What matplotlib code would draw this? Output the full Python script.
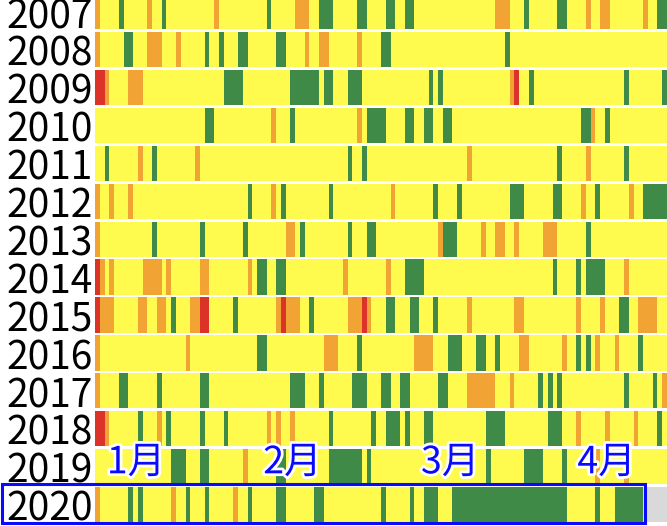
import matplotlib
matplotlib.use("Agg")
import matplotlib.pyplot as plt
import matplotlib.patheffects as pe
from matplotlib.patches import Rectangle

# ---- data: per-year runs of (first day index from Jan 1, number of days, level) ----
# levels: 'g' green, 'o' orange, 'r' red ; all other days are yellow
years = [2007, 2008, 2009, 2010, 2011, 2012, 2013, 2014, 2015, 2016, 2017, 2018, 2019, 2020]

runs_2007 = [(0, 1, 'o'), (5, 1, 'g'), (11, 1, 'o'), (14, 1, 'g'), (25, 1, 'o'), (36, 1, 'g'),
             (42, 3, 'o'), (47, 3, 'g'), (55, 2, 'g'), (61, 2, 'g'), (65, 2, 'g'), (84, 3, 'o'),
             (90, 1, 'g'), (97, 2, 'g'), (103, 1, 'o'), (106, 2, 'o'), (115, 1, 'o'), (118, 2, 'g')]
runs_2008 = [(0, 1, 'o'), (6, 2, 'g'), (11, 3, 'o'), (17, 1, 'o'), (23, 1, 'g'), (26, 1, 'g'),
             (30, 2, 'g'), (38, 2, 'g'), (44, 1, 'o'), (47, 2, 'o'), (55, 1, 'o'), (60, 2, 'g'),
             (86, 1, 'g')]
runs_2009 = [(0, 2, 'r'), (2, 1, 'o'), (7, 3, 'o'), (27, 4, 'g'), (41, 6, 'g'), (48, 2, 'g'),
             (53, 3, 'g'), (70, 1, 'g'), (72, 1, 'g'), (87, 1, 'o'), (88, 1, 'r'), (91, 1, 'g'),
             (111, 1, 'g'), (119, 1, 'g')]
runs_2010 = [(23, 2, 'g'), (37, 1, 'o'), (41, 1, 'g'), (55, 1, 'o'), (57, 4, 'g'), (65, 2, 'g'),
             (69, 2, 'g'), (73, 2, 'g'), (102, 2, 'g'), (104, 1, 'o'), (107, 1, 'g')]
runs_2011 = [(2, 1, 'g'), (9, 1, 'o'), (12, 1, 'g'), (21, 1, 'o'), (53, 1, 'g'), (56, 1, 'g'),
             (78, 1, 'o'), (97, 1, 'g'), (103, 1, 'o'), (111, 1, 'g')]
runs_2012 = [(0, 1, 'o'), (3, 1, 'o'), (7, 1, 'o'), (32, 1, 'g'), (37, 1, 'o'), (39, 1, 'g'),
             (49, 1, 'g'), (62, 1, 'o'), (71, 1, 'g'), (76, 1, 'g'), (87, 3, 'g'), (96, 2, 'g'),
             (102, 1, 'o'), (105, 1, 'g'), (112, 1, 'o'), (115, 5, 'g')]
runs_2013 = [(0, 1, 'o'), (12, 1, 'g'), (22, 1, 'g'), (31, 1, 'g'), (40, 2, 'o'), (43, 1, 'g'),
             (53, 1, 'g'), (57, 2, 'g'), (72, 1, 'o'), (73, 3, 'g'), (81, 1, 'o'), (84, 2, 'o'),
             (88, 1, 'o'), (94, 3, 'o'), (103, 1, 'g')]
runs_2014 = [(0, 1, 'r'), (1, 1, 'o'), (3, 1, 'o'), (10, 4, 'o'), (15, 1, 'o'), (22, 2, 'o'),
             (32, 1, 'o'), (34, 2, 'g'), (38, 2, 'g'), (52, 1, 'o'), (61, 1, 'o'), (65, 4, 'g'),
             (96, 1, 'g'), (101, 1, 'g'), (103, 4, 'g'), (111, 1, 'o')]
runs_2015 = [(0, 1, 'r'), (1, 3, 'o'), (9, 2, 'o'), (13, 2, 'o'), (16, 1, 'g'), (20, 2, 'o'),
             (22, 2, 'r'), (29, 1, 'g'), (38, 1, 'o'), (39, 1, 'r'), (40, 3, 'o'), (45, 1, 'g'),
             (53, 3, 'o'), (56, 1, 'r'), (57, 1, 'o'), (61, 2, 'g'), (66, 2, 'g'), (71, 1, 'g'),
             (78, 1, 'o'), (88, 2, 'o'), (101, 1, 'o'), (106, 1, 'o'), (110, 2, 'g'), (114, 4, 'o')]
runs_2016 = [(0, 1, 'o'), (19, 1, 'o'), (34, 2, 'g'), (48, 3, 'o'), (55, 1, 'g'), (67, 4, 'o'),
             (74, 3, 'g'), (80, 2, 'g'), (84, 1, 'g'), (89, 2, 'o'), (98, 1, 'o'), (101, 1, 'g'),
             (103, 1, 'g'), (105, 1, 'o'), (109, 1, 'o'), (114, 1, 'g')]
runs_2017 = [(0, 1, 'o'), (5, 2, 'g'), (13, 1, 'g'), (22, 2, 'g'), (41, 3, 'g'), (47, 1, 'g'),
             (54, 3, 'g'), (60, 2, 'g'), (64, 2, 'g'), (72, 2, 'g'), (78, 6, 'o'), (87, 1, 'o'),
             (93, 1, 'g'), (95, 1, 'g'), (97, 1, 'g'), (111, 1, 'g'), (117, 1, 'g'), (119, 1, 'o')]
runs_2018 = [(0, 2, 'r'), (2, 1, 'o'), (9, 1, 'g'), (13, 1, 'o'), (15, 1, 'g'), (22, 1, 'g'),
             (27, 1, 'g'), (36, 1, 'o'), (38, 1, 'o'), (41, 1, 'o'), (49, 1, 'g'), (58, 1, 'g'),
             (61, 3, 'g'), (65, 1, 'g'), (69, 2, 'g'), (82, 4, 'g'), (95, 3, 'g'), (101, 1, 'o'),
             (107, 1, 'o'), (113, 1, 'o'), (118, 1, 'g')]
runs_2019 = [(16, 3, 'g'), (22, 2, 'g'), (31, 1, 'o'), (38, 2, 'g'), (49, 7, 'g'), (57, 1, 'g'),
             (82, 1, 'g'), (90, 4, 'g'), (98, 1, 'g'), (105, 1, 'o'), (111, 1, 'o')]
runs_2020 = [(0, 1, 'o'), (7, 1, 'g'), (9, 1, 'g'), (16, 1, 'o'), (19, 1, 'g'), (23, 1, 'g'),
             (29, 1, 'o'), (32, 1, 'g'), (38, 2, 'g'), (46, 2, 'g'), (60, 1, 'g'), (66, 1, 'g'),
             (69, 3, 'g'), (75, 24, 'g'), (105, 1, 'g'), (109, 6, 'g')]

all_runs = [runs_2007, runs_2008, runs_2009, runs_2010, runs_2011, runs_2012, runs_2013,
            runs_2014, runs_2015, runs_2016, runs_2017, runs_2018, runs_2019, runs_2020]

# number of days with data in each year (2020 stops early)
days_with_data = [120] * 13 + [115]
total_days = 120

month_labels = ['1月', '2月', '3月', '4月']
month_label_x = [8.6, 41.4, 74.5, 107.3]   # label anchor positions (days)
highlight_year = 2020

# ---- style ----
YELLOW = '#fefb4e'
COLORS = {'g': '#3f8a47', 'o': '#f1a334', 'r': '#db3327'}
GREY = '#d9d9d9'
BLUE = '#0a0aff'

fig = plt.figure(figsize=(6.67, 5.26), dpi=100)
ax = fig.add_axes([0, 0, 1, 1])
px_per_day = 4.767
left_px = 95
ax.set_xlim(-left_px / px_per_day, total_days)
pitch = 37.9
first_center = 11.8
ax.set_ylim((526 - first_center) / pitch, -first_center / pitch)
ax.axis('off')

h = 0.934
for k, (yr, runs, n) in enumerate(zip(years, all_runs, days_with_data)):
    ax.broken_barh([(0, n)], (k - h / 2, h), facecolors=YELLOW, linewidth=0)
    if n < total_days:
        ax.broken_barh([(n, total_days - n)], (k - h / 2, h), facecolors=GREY, linewidth=0)
    for s, L, c in runs:
        ax.broken_barh([(s, L)], (k - h / 2, h), facecolors=COLORS[c], linewidth=0)
    ax.text(-0.4, k + 0.02, str(yr), ha='right', va='center_baseline', fontsize=28,
            family=['Noto Sans CJK JP', 'DejaVu Sans'], color='black')

# month labels on the row above the highlighted year
k_lab = years.index(highlight_year) - 1 - 0.1
for lab, x in zip(month_labels, month_label_x):
    ax.text(x, k_lab, lab, ha='center', va='center', fontsize=27, color=BLUE,
            family=['Noto Sans CJK JP', 'DejaVu Sans'],
            path_effects=[pe.withStroke(linewidth=4, foreground='white')])

# highlight box around 2020
kh = years.index(highlight_year)
n_h = days_with_data[kh]
x0 = -left_px / px_per_day + 2 / px_per_day
rect = Rectangle((x0, kh - 0.55), (n_h + 0.3) - x0, 1.04, fill=False,
                 edgecolor=BLUE, linewidth=2.2, clip_on=False)
ax.add_patch(rect)

fig.savefig('out.png', dpi=100, facecolor='white')
